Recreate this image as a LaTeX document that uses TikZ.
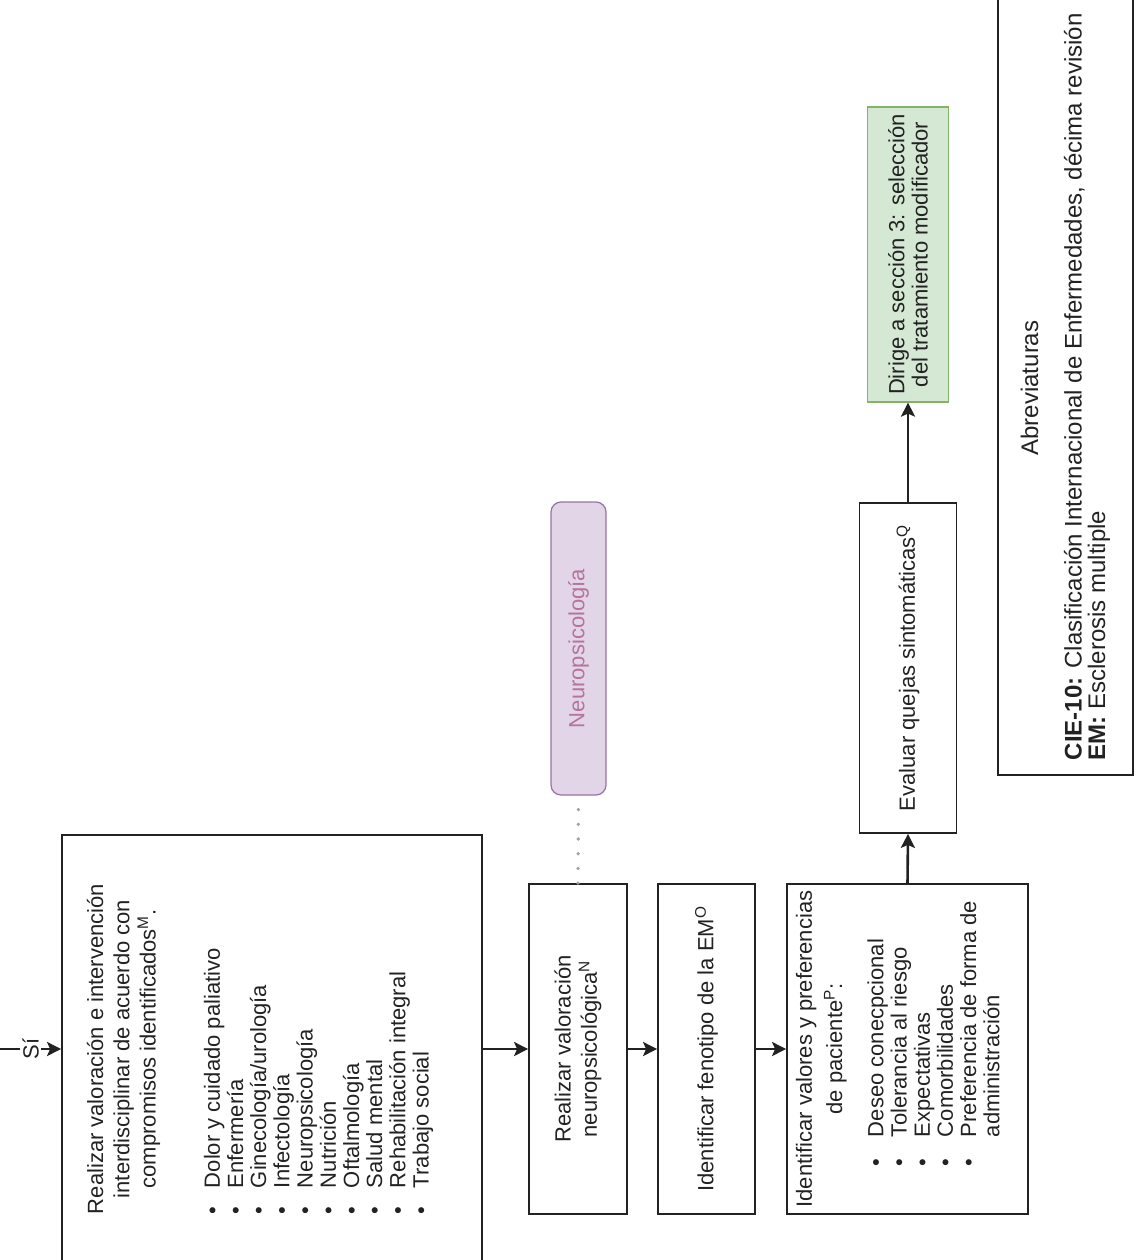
\documentclass[tikz,border=0pt]{standalone}
\usepackage{fontspec}
\setmainfont{Liberation Sans}
\usetikzlibrary{arrows.meta}
\definecolor{VerdeRelleno}{HTML}{D5E8D4}
\definecolor{VerdeBorde}{HTML}{82B366}
\definecolor{LilaRelleno}{HTML}{E1D5E7}
\definecolor{LilaBorde}{HTML}{9673A6}
\definecolor{LilaTexto}{HTML}{B5739D}
\definecolor{Tinta}{HTML}{222222}
\newcommand{\vin}{\makebox[26pt][l]{\textbullet}}
\newcommand{\vinb}{\hspace*{48pt}\makebox[29pt][l]{\textbullet}}

\begin{document}
\begin{tikzpicture}[x=1pt, y=-1pt, font=\fontsize{22}{23.2}\selectfont,
    caja/.style={draw=Tinta, line width=1.8pt, rotate=90, inner sep=0pt,
        text=Tinta, align=center},
    flecha/.style={draw=Tinta, line width=2.6pt,
        -{Stealth[length=14pt, width=14pt, inset=3pt]}},
    punteado/.style={draw=gray!75, line width=3.6pt, line cap=round,
        dash pattern=on 0pt off 14.7pt, shorten >=6pt},
    etiqueta/.style={rotate=90, fill=white, inner sep=2pt, text=Tinta}]

\useasboundingbox (0,0) rectangle (1135,1260);
\clip (0,0) rectangle (1135,1260);

\node[caja, minimum width=428pt, minimum height=420pt] (A) at (272,1049)
    {\parbox[c][420pt][t]{330pt}{\vspace*{25pt}\centering
     Realizar valoración e intervención\\[3pt]
     interdisciplinar de acuerdo con\\[3pt]
     compromisos identificados\textsuperscript{M}.\par\vspace{41pt}
     \raggedright
     \vin Dolor y cuidado paliativo\\ \vin Enfermería\\
     \vin Ginecología/urología\\ \vin Infectología\\
     \vin Neuropsicología\\ \vin Nutrición\\ \vin Oftalmología\\
     \vin Salud mental\\ \vin Rehabilitación integral\\ \vin Trabajo social}};

\node[caja, minimum width=330pt, minimum height=98pt] (B) at (578,1049)
    {Realizar valoración\\[3pt] neuropsicológica\textsuperscript{N}};
\node[caja, minimum width=330pt, minimum height=97pt] (C) at (706.5,1049)
    {Identificar fenotipo de la EM\textsuperscript{O}};
\node[caja, minimum width=330pt, minimum height=241pt] (D) at (907.5,1049)
    {\parbox[c][241pt][t]{330pt}{\vspace*{9pt}\centering
     Identificar valores y preferencias\\[7pt]
     de paciente\textsuperscript{P}:\par\vspace{18pt}
     \raggedright
     \vinb Deseo conecpcional\\ \vinb Tolerancia al riesgo\\
     \vinb Expectativas\\ \vinb Comorbilidades\\
     \vinb Preferencia de forma de\\ \hspace*{77pt}administración}};

\node[caja, minimum width=330pt, minimum height=97pt] (E) at (908,668)
    {Evaluar quejas sintomáticas\textsuperscript{Q}};
\node[caja, draw=VerdeBorde, fill=VerdeRelleno, line width=1.2pt,
      minimum width=295pt, minimum height=81pt] (F) at (908,254.5)
    {Dirige a sección 3: selección\\ del tratamiento modificador};

\node[caja, draw=LilaBorde, fill=LilaRelleno, text=LilaTexto, line width=1.2pt,
      rounded corners=10pt, minimum width=293pt, minimum height=55pt] (N) at (578.5,648.5)
    {Neuropsicología};

\node[caja, line width=1.4pt, minimum width=815pt, minimum height=135pt,
      font=\fontsize{24}{23.5}\selectfont] (R) at (1065.5,367.5)
    {\parbox{815pt}{\raggedright
     \hspace*{15pt}\makebox[744pt]{Abreviaturas}\\[20pt]
     \hspace*{15pt}\textbf{CIE-10:} Clasificación Internacional de Enfermedades, décima revisión\\
     \hspace*{15pt}\textbf{EM:} Esclerosis multiple}};

\coordinate (entrada) at (0,1049);
\draw[flecha] (entrada) -- node[etiqueta] {Sí} (A.north);
\draw[flecha] (A.south) -- (B.north);
\draw[flecha] (B.south) -- (C.north);
\draw[flecha] (C.south) -- (D.north);
\draw[flecha] (D.east) -- (E.west);
\draw[flecha] (E.east) -- (F.west);
\draw[punteado] (B.east) -- (N.west);

\end{tikzpicture}
\end{document}
